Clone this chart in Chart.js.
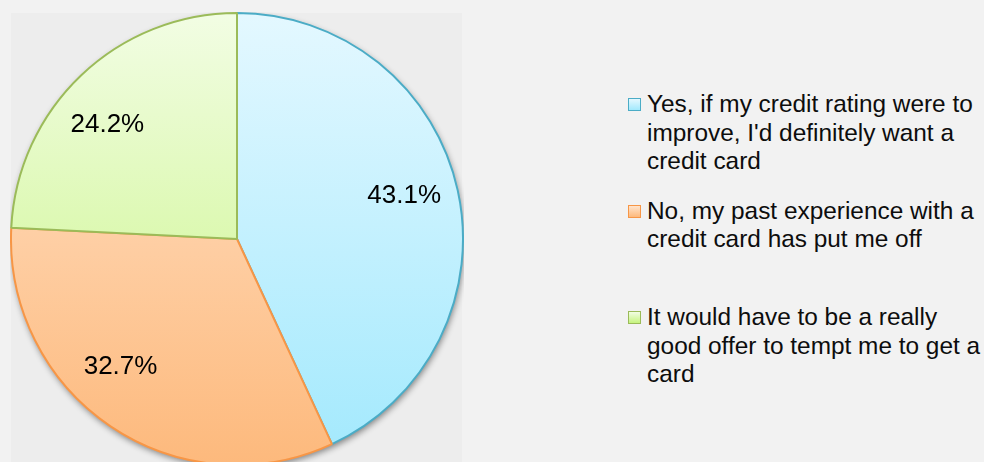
<!DOCTYPE html>
<html>
<head>
<meta charset="utf-8">
<script src="https://cdn.jsdelivr.net/npm/chart.js@4.4.1/dist/chart.umd.min.js"></script>
<style>
  html, body { margin: 0; padding: 0; }
  body { width: 984px; height: 462px; overflow: hidden; background: #f2f2f2; position: relative;
         font-family: "Liberation Sans", Arial, sans-serif; }
  #plotBg { position: absolute; left: 11px; top: 13px; width: 451px; height: 460px; background: #ededed; }
  #pieBox { position: absolute; left: 10px; top: 12px; width: 454px; height: 454px; }
  #legend { position: absolute; left: 628px; top: 90px; width: 356px; }
  .item { position: relative; height: 106.5px; }
  .box { position: absolute; left: 0; top: 8px; width: 11px; height: 11px; border: 1.5px solid; }
  .txt { position: absolute; left: 19px; top: 0; font-size: 24.4px; line-height: 28.5px; color: #0d0d0d; white-space: nowrap; }
</style>
</head>
<body>
<div id="plotBg"></div>
<div id="pieBox"><canvas id="pie"></canvas></div>
<div id="legend"></div>
<script>
// — Veri —
const labels = [
  "Yes, if my credit rating were to\nimprove, I'd definitely want a\ncredit card",
  "No, my past experience with a\ncredit card has put me off",
  "It would have to be a really\ngood offer to tempt me to get a\ncard"
];
const values = [43.1, 32.7, 24.2];

// — Renkler —
const edgeColors = ['#4bacc6', '#f79646', '#9bbb59'];
const topColors = ['#e4f8ff', '#ffe4cc', '#f2fde4'];
const bottomColors = ['#a2e9fd', '#fdb97c', '#c6f47e'];

function sliceGradient(ctx) {
  const chart = ctx.chart;
  const a = chart.chartArea;
  const i = ctx.dataIndex;
  if (!a) return topColors[i];
  const g = chart.ctx.createLinearGradient(0, a.top, 0, a.bottom);
  g.addColorStop(0, topColors[i]);
  g.addColorStop(1, bottomColors[i]);
  return g;
}

// — Gölge: dilimlerin altına bir daire —
const pieShadow = {
  id: 'pieShadow',
  beforeDatasetsDraw(chart) {
    const arc = chart.getDatasetMeta(0).data[0];
    if (!arc) return;
    const c = chart.ctx;
    c.save();
    c.shadowColor = 'rgba(0,0,0,0.45)';
    c.shadowBlur = 6;
    c.shadowOffsetX = 1;
    c.shadowOffsetY = 3;
    c.beginPath();
    c.arc(arc.x, arc.y, arc.outerRadius, 0, Math.PI * 2);
    c.fillStyle = '#ededed';
    c.fill();
    c.restore();
  }
};

// — Yüzde etiketleri —
const pctLabels = {
  id: 'pctLabels',
  afterDatasetsDraw(chart, args, opts) {
    const c = chart.ctx;
    const meta = chart.getDatasetMeta(0);
    c.save();
    c.font = opts.font;
    c.fillStyle = opts.color;
    c.textAlign = 'center';
    c.textBaseline = 'middle';
    meta.data.forEach((arc, i) => {
      const mid = (arc.startAngle + arc.endAngle) / 2 + (opts.nudge[i] || 0) * Math.PI / 180;
      const r = arc.outerRadius * opts.ratio;
      c.fillText(values[i].toFixed(1) + '%', arc.x + Math.cos(mid) * r, arc.y + Math.sin(mid) * r);
    });
    c.restore();
  }
};

new Chart(document.getElementById('pie'), {
  type: 'pie',
  data: {
    labels: labels,
    datasets: [{
      data: values,
      backgroundColor: sliceGradient,
      borderColor: edgeColors,
      borderWidth: 2
    }]
  },
  options: {
    responsive: true,
    maintainAspectRatio: false,
    animation: false,
    layout: { padding: 0 },
    plugins: {
      legend: { display: false },
      tooltip: { enabled: false },
      pctLabels: { font: '26px "Liberation Sans", Arial, sans-serif', color: '#000', ratio: 0.764, nudge: [-2.1, 8.4, -5.1] }
    }
  },
  plugins: [pieShadow, pctLabels]
});

// — Lejant —
const legend = document.getElementById('legend');
labels.forEach((lab, i) => {
  const item = document.createElement('div');
  item.className = 'item';
  const box = document.createElement('div');
  box.className = 'box';
  box.style.borderColor = edgeColors[i];
  box.style.background = 'linear-gradient(' + topColors[i] + ',' + bottomColors[i] + ')';
  const txt = document.createElement('div');
  txt.className = 'txt';
  lab.split('\n').forEach((line, k) => {
    if (k) txt.appendChild(document.createElement('br'));
    txt.appendChild(document.createTextNode(line));
  });
  item.appendChild(box);
  item.appendChild(txt);
  legend.appendChild(item);
});
</script>
</body>
</html>
